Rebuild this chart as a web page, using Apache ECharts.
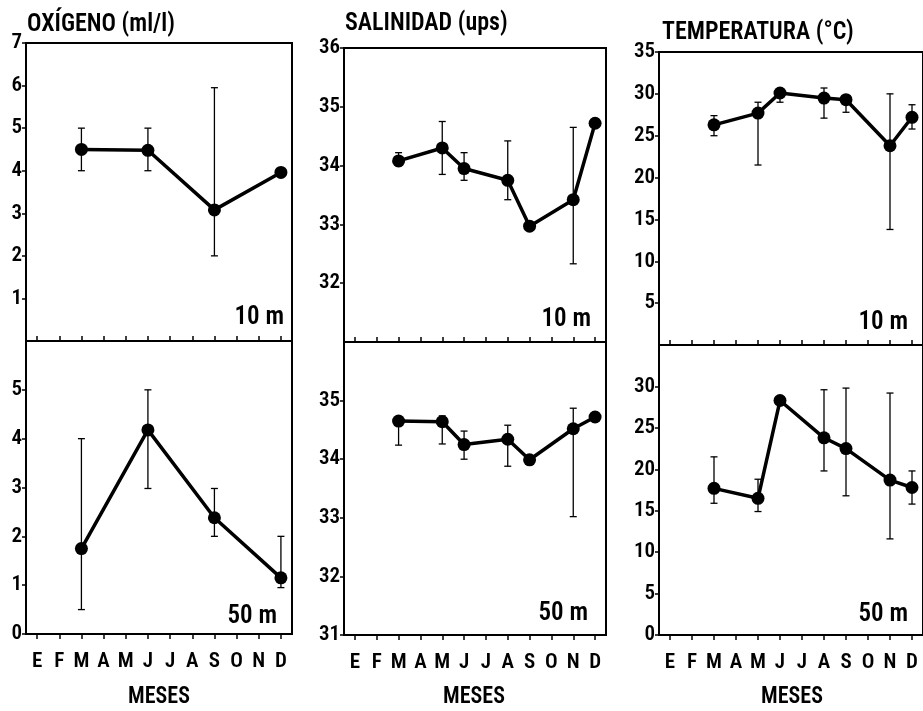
<!DOCTYPE html>
<html><head><meta charset="utf-8">
<script src="https://cdn.jsdelivr.net/npm/echarts@6/dist/echarts.min.js"></script>
<style>html,body{margin:0;padding:0;background:#fff}#c{width:923px;height:711px}</style>
</head><body><div id="c"></div>
<script>
// ---- DATA ----
const MONTHS = ['E','F','M','A','M','J','J','A','S','O','N','D'];
const X_TITLE = 'MESES';

// Oxígeno (ml/l)
const OXY10_MONTH = [2, 5, 8, 11];
const OXY10_MEAN  = [4.5, 4.48, 3.08, 3.96];
const OXY10_LOW   = [4.0, 4.0, 2.0, null];
const OXY10_HIGH  = [5.0, 5.0, 5.95, null];

const OXY50_MONTH = [2, 5, 8, 11];
const OXY50_MEAN  = [1.75, 4.18, 2.38, 1.15];
const OXY50_LOW   = [0.5, 2.98, 2.0, 0.95];
const OXY50_HIGH  = [4.0, 5.0, 2.98, 2.0];

// Salinidad (ups)
const SAL10_MONTH = [2, 4, 5, 7, 8, 10, 11];
const SAL10_MEAN  = [34.08, 34.3, 33.95, 33.75, 32.97, 33.42, 34.72];
const SAL10_LOW   = [34.0, 33.85, 33.75, 33.42, null, 32.33, null];
const SAL10_HIGH  = [34.22, 34.75, 34.22, 34.42, null, 34.65, null];

const SAL50_MONTH = [2, 4, 5, 7, 8, 10, 11];
const SAL50_MEAN  = [34.65, 34.64, 34.25, 34.34, 33.99, 34.52, 34.72];
const SAL50_LOW   = [34.24, 34.26, 34.0, 33.88, null, 33.02, null];
const SAL50_HIGH  = [34.65, 34.74, 34.48, 34.58, null, 34.87, null];

// Temperatura (°C)
const TEM10_MONTH = [2, 4, 5, 7, 8, 10, 11];
const TEM10_MEAN  = [26.3, 27.7, 30.1, 29.5, 29.3, 23.8, 27.2];
const TEM10_LOW   = [25.0, 21.5, 29.0, 27.1, 27.8, 13.8, 25.8];
const TEM10_HIGH  = [27.4, 29.0, 30.5, 30.7, 29.7, 30.0, 28.7];

const TEM50_MONTH = [2, 4, 5, 7, 8, 10, 11];
const TEM50_MEAN  = [17.7, 16.5, 28.3, 23.8, 22.5, 18.7, 17.8];
const TEM50_LOW   = [15.9, 14.9, null, 19.8, 16.8, 11.6, 15.8];
const TEM50_HIGH  = [21.5, 18.8, null, 29.6, 29.8, 29.2, 19.8];

const TITLES = ['OXÍGENO (ml/l)', 'SALINIDAD (ups)', 'TEMPERATURA (°C)'];
const DEPTHS = ['10 m', '50 m'];

// ---- LAYOUT ----
const FONT = "'Roboto Condensed','Liberation Sans Narrow','Arial Narrow',sans-serif";
const W = 600;
const panels = [
  {grid:{left:26, top:43, width:266, height:298}, top:true,  min:0,  max:7,  interval:1, month:OXY10_MONTH, mean:OXY10_MEAN, low:OXY10_LOW, high:OXY10_HIGH},
  {grid:{left:26, top:341, width:266, height:293}, top:false, min:0,  max:6,  interval:1, month:OXY50_MONTH, mean:OXY50_MEAN, low:OXY50_LOW, high:OXY50_HIGH},
  {grid:{left:344, top:48, width:262, height:294}, top:true,  min:31, max:36, interval:1, month:SAL10_MONTH, mean:SAL10_MEAN, low:SAL10_LOW, high:SAL10_HIGH},
  {grid:{left:344, top:342, width:262, height:293}, top:false, min:31, max:36, interval:1, month:SAL50_MONTH, mean:SAL50_MEAN, low:SAL50_LOW, high:SAL50_HIGH},
  {grid:{left:659, top:52, width:266, height:293}, top:true,  min:0,  max:35, interval:5, month:TEM10_MONTH, mean:TEM10_MEAN, low:TEM10_LOW, high:TEM10_HIGH},
  {grid:{left:659, top:345, width:266, height:290}, top:false, min:0,  max:35, interval:5, month:TEM50_MONTH, mean:TEM50_MEAN, low:TEM50_LOW, high:TEM50_HIGH}
];

const grids = [], xAxes = [], yAxes = [], series = [];
panels.forEach((p, i) => {
  grids.push(Object.assign({show:true, borderColor:'#000', borderWidth:2, backgroundColor:'transparent'}, p.grid));
  xAxes.push({
    gridIndex:i, type:'category', boundaryGap:true,
    data: MONTHS.map((m, k) => String(k)),
    axisLine:{show:true, lineStyle:{color:'#000', width:2}},
    axisTick:{show:true, alignWithLabel:true, inside:p.top, length:5, lineStyle:{color:'#000', width:1.5}},
    axisLabel:{show:!p.top, color:'#000', fontFamily:FONT, fontSize:21, fontWeight:W, margin:17,
      interval:0, formatter:(v) => MONTHS[+v]},
    splitLine:{show:false}
  });
  yAxes.push({
    gridIndex:i, type:'value', min:p.min, max:p.max, interval:p.interval,
    axisLine:{show:true, lineStyle:{color:'#000', width:2}},
    axisTick:{show:true, inside:false, length:4, lineStyle:{color:'#000', width:1.5}},
    axisLabel:{color:'#000', fontFamily:FONT, fontSize:21, fontWeight:W, margin:4,
      showMinLabel:!p.top, showMaxLabel:p.top},
    splitLine:{show:false}
  });
  const errData = [];
  p.month.forEach((m, k) => { if (p.low[k] != null) errData.push([m, p.low[k], p.high[k]]); });
  series.push({
    type:'custom', xAxisIndex:i, yAxisIndex:i, z:2, silent:true,
    encode:{x:0, y:[1,2]},
    data: errData,
    renderItem:(params, api) => {
      const x = api.value(0);
      const a = api.coord([x, api.value(1)]);
      const b = api.coord([x, api.value(2)]);
      const w = 3.5, st = {stroke:'#000', lineWidth:1.3};
      return {type:'group', children:[
        {type:'line', shape:{x1:a[0], y1:a[1], x2:b[0], y2:b[1]}, style:st},
        {type:'line', shape:{x1:a[0]-w, y1:a[1], x2:a[0]+w, y2:a[1]}, style:st},
        {type:'line', shape:{x1:b[0]-w, y1:b[1], x2:b[0]+w, y2:b[1]}, style:st}
      ]};
    }
  });
  series.push({
    type:'line', xAxisIndex:i, yAxisIndex:i, z:3, silent:true,
    data: p.month.map((m, k) => [m, p.mean[k]]),
    symbol:'circle', symbolSize:13,
    lineStyle:{color:'#000', width:3.5},
    itemStyle:{color:'#000'}
  });
});

const graphics = [];
const titlePos = [[27, 25], [345, 24], [662, 33]];
TITLES.forEach((t, k) => graphics.push({type:'text', x:titlePos[k][0], y:titlePos[k][1], scaleY:1.08,
  style:{text:t, font:W + " 24px " + FONT, fill:'#000', textVerticalAlign:'middle'}}));
const mesesX = [159, 474, 792];
mesesX.forEach(x => graphics.push({type:'text', x:x, y:697, scaleY:1.1,
  style:{text:X_TITLE, font:W + " 22px " + FONT, fill:'#000', textAlign:'center', textVerticalAlign:'middle'}}));
const depthPos = [[284, 317], [277, 616], [591, 319], [588, 613], [908, 322], [908, 614]];
const depthIdx = [0, 1, 0, 1, 0, 1];
depthPos.forEach((d, k) => graphics.push({type:'text', x:d[0], y:d[1], scaleY:1.05,
  style:{text:DEPTHS[depthIdx[k]], font:W + " 25px " + FONT, fill:'#000', textAlign:'right', textVerticalAlign:'middle'}}));

const chart = echarts.init(document.getElementById('c'), null, {renderer:'canvas'});
chart.setOption({
  animation:false, backgroundColor:'#fff',
  grid:grids, xAxis:xAxes, yAxis:yAxes, series:series, graphic:graphics
});
</script></body></html>
